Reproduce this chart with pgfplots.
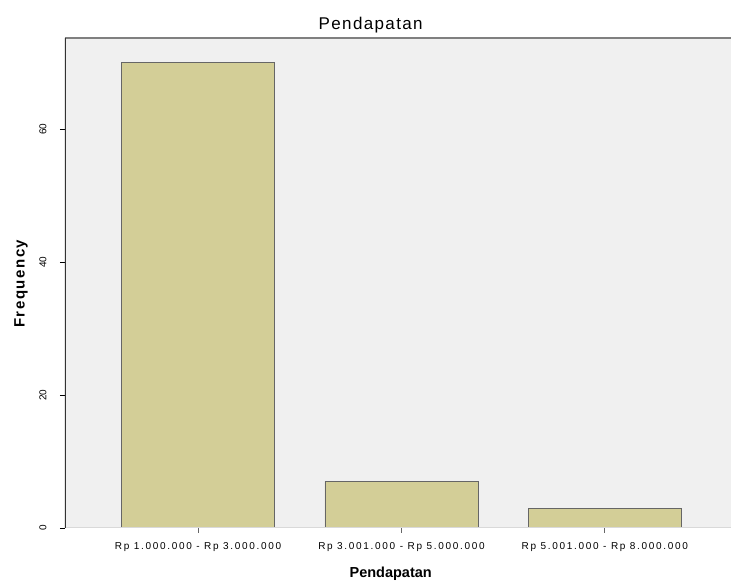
\documentclass[border=0pt]{standalone}
\usepackage{pgfplots}
\pgfplotsset{compat=1.18}
\usepackage{fontspec}
\setmainfont{Liberation Sans}
\definecolor{bg}{HTML}{F0F0F0}
\definecolor{barc}{HTML}{D3CE97}
\begin{document}
\begin{tikzpicture}
\begin{axis}[
  scale only axis,
  width=666pt, height=490pt,
  xmin=-0.654, xmax=2.62,
  ymin=0, ymax=73.7,
  axis background/.style={fill=bg},
  axis line style={draw=none},
  xtick={0,1,2},
  xticklabels={Rp 1.000.000 - Rp 3.000.000, Rp 3.001.000 - Rp 5.000.000, Rp 5.001.000 - Rp 8.000.000},
  ytick={0,20,40,60},
  tick align=outside,
  tick pos=left,
  major tick length=5pt,
  ytick style={draw=black, line width=0.9pt},
  xtick style={draw=black!60, line width=0.9pt},
  xticklabel style={font=\fontsize{10}{12}\selectfont\addfontfeature{LetterSpace=17}, yshift=-6pt},
  yticklabel style={font=\fontsize{10}{12}\selectfont, rotate=90, anchor=south},
  yticklabel shift=10pt,
  /pgf/number format/assume math mode=true,
  title={Pendapatan},
  title style={font=\fontsize{17}{19}\selectfont\addfontfeature{LetterSpace=8}, at={(0.459,1)}, anchor=base, yshift=2pt},
  xlabel={\textbf{Pendapatan}},
  ylabel={\textbf{Frequency}},
  xlabel style={font=\fontsize{14.5}{16}\selectfont, at={(0.489,0)}, anchor=base, yshift=-50pt},
  ylabel style={font=\fontsize{15}{17}\selectfont\addfontfeature{LetterSpace=10}, at={(0,0.5)}, anchor=center, yshift=44pt},
]
\addplot[ybar, bar width=0.752, fill=barc, draw=black!60, line width=0.8pt] coordinates {(0,70) (1,7) (2,3)};
\draw[black!15, line width=1pt] (rel axis cs:0,0) -- (rel axis cs:1,0);
\draw[black!50, line width=2pt] (rel axis cs:0,1) -- (rel axis cs:1,1);
\draw[black!80, line width=1.2pt] (rel axis cs:0,0) -- (rel axis cs:0,1);
\end{axis}
\pgfresetboundingbox
\path[use as bounding box] (-65pt,-57pt) rectangle (666pt,528pt);
\end{tikzpicture}
\end{document}
